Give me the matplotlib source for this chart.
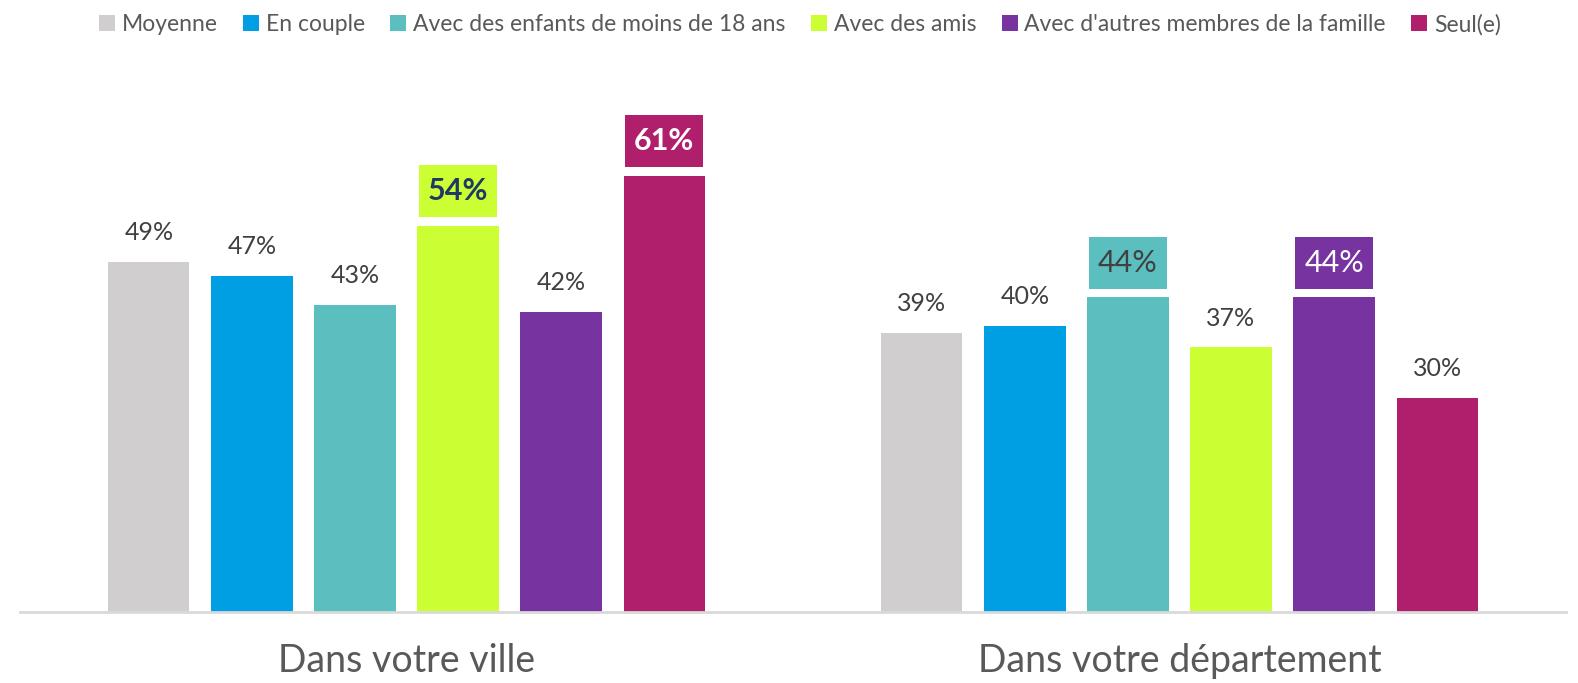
import matplotlib
matplotlib.use("Agg")
import matplotlib.pyplot as plt
import numpy as np

plt.rcParams["font.family"] = ["Lato", "DejaVu Sans"]

categories = ["Dans votre ville", "Dans votre département"]
series = ["Moyenne", "En couple", "Avec des enfants de moins de 18 ans",
          "Avec des amis", "Avec d'autres membres de la famille", "Seul(e)"]
values = [
    [49, 39],
    [47, 40],
    [43, 44],
    [54, 37],
    [42, 44],
    [61, 30],
]
colors = ["#D0CECE", "#009FE3", "#5BBFC0", "#CCFF33", "#7733A0", "#B01F6C"]

# labels drawn in a box: (series index, category index, text colour, bold)
boxed = {
    (3, 0): ("#1F3864", True),
    (5, 0): ("white", True),
    (2, 1): ("#404040", False),
    (4, 1): ("white", False),
}

W, H = 1578, 683
fig = plt.figure(figsize=(W / 100, H / 100), dpi=100)
ax = fig.add_axes([20 / W, 71 / H, (1566 - 20) / W, (612 - 40) / H])

x = np.arange(len(categories))
pitch = 0.1333
width = 0.105
n = len(series)
for i, (name, vals, col) in enumerate(zip(series, values, colors)):
    xs = x + (i - (n - 1) / 2) * pitch
    ax.bar(xs, vals, width, color=col, label=name, zorder=2)
    for j, (xx, v) in enumerate(zip(xs, vals)):
        if (i, j) in boxed:
            tcol, bold = boxed[(i, j)]
            ax.bar(xx, 7.3, width * 0.96, bottom=v + 1.2, color=col, zorder=2)
            ax.text(xx, v + 1.2 + 3.65, f"{v}%", ha="center", va="center",
                    fontsize=22, color=tcol,
                    fontweight="bold" if bold else "normal", zorder=3)
        else:
            ax.annotate(f"{v}%", (xx, v), xytext=(0, 21), textcoords="offset points",
                        ha="center", va="center", fontsize=18, color="#404040")

ax.set_xlim(-0.5, 1.5)
ax.set_ylim(0, 80)
for s in ["top", "right", "left"]:
    ax.spines[s].set_visible(False)
ax.spines["bottom"].set_color("#D9D9D9")
ax.spines["bottom"].set_linewidth(2)
ax.set_yticks([])
ax.set_xticks(x)
ax.set_xticklabels(categories, fontsize=27, color="#595959")
ax.tick_params(axis="x", length=0, pad=22)

leg = fig.legend(loc="upper center", bbox_to_anchor=(800 / W, 1.0), ncol=6,
                 frameon=False, fontsize=16.5, handlelength=0.7, handleheight=0.7,
                 handletextpad=0.3, columnspacing=1.1, borderaxespad=0.2)
for t in leg.get_texts():
    t.set_color("#595959")

fig.savefig("out.png", dpi=100)
